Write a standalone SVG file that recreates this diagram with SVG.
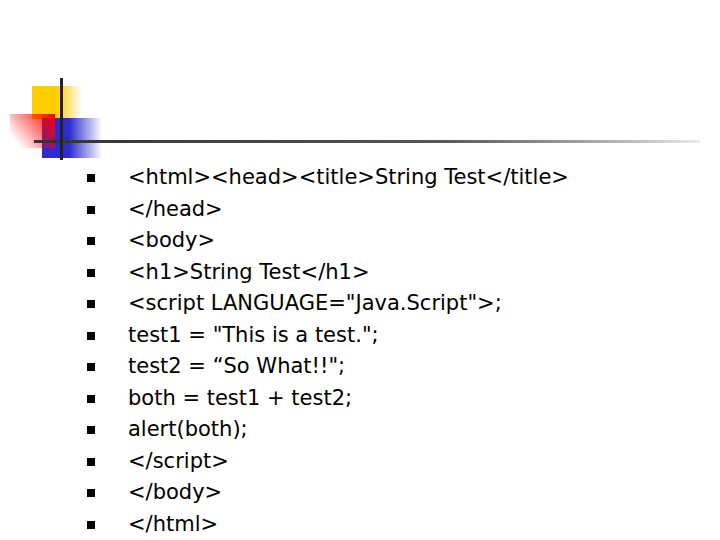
<svg xmlns="http://www.w3.org/2000/svg" width="720" height="540" viewBox="0 0 720 540">
<defs>
<linearGradient id="gy" x1="0" x2="1"><stop offset="0" stop-color="#ffcc00"/><stop offset="0.5" stop-color="#ffcc00"/><stop offset="1" stop-color="#ffcc00" stop-opacity="0"/></linearGradient>
<linearGradient id="gr" x1="0" x2="1" y1="0.6" y2="0"><stop offset="0" stop-color="#ff0000" stop-opacity="0"/><stop offset="1" stop-color="#ff0000"/></linearGradient>
<linearGradient id="gb" x1="0" x2="1"><stop offset="0" stop-color="#2b2bd0"/><stop offset="0.45" stop-color="#2b2bd0"/><stop offset="1" stop-color="#2b2bd0" stop-opacity="0"/></linearGradient>
<linearGradient id="gl" x1="0" x2="1"><stop offset="0" stop-color="#333"/><stop offset="0.6" stop-color="#555"/><stop offset="1" stop-color="#333" stop-opacity="0.1"/></linearGradient>
<style>text{font-family:"DejaVu Sans","Liberation Sans",sans-serif;font-size:21px;fill:#000}.b{fill:#000}</style>
</defs>
<rect width="720" height="540" fill="#fff"/>
<g id="logo">
<rect x="32" y="86" width="50" height="33" fill="url(#gy)"/>
<rect x="42" y="118" width="60" height="40" fill="url(#gb)"/>
<rect x="10" y="114" width="45" height="34" fill="url(#gr)"/>
<rect x="34" y="140" width="666" height="3" fill="url(#gl)"/>
<rect x="60" y="78" width="3" height="82" fill="#222"/>
</g>
<g id="list">
<g class="b">
<rect x="87" y="174" width="8" height="8"/><rect x="87" y="206" width="8" height="8"/><rect x="87" y="237" width="8" height="8"/><rect x="87" y="269" width="8" height="8"/><rect x="87" y="300" width="8" height="8"/><rect x="87" y="332" width="8" height="8"/><rect x="87" y="363" width="8" height="8"/><rect x="87" y="395" width="8" height="8"/><rect x="87" y="426" width="8" height="8"/><rect x="87" y="458" width="8" height="8"/><rect x="87" y="489" width="8" height="8"/><rect x="87" y="521" width="8" height="8"/>
</g>
<text x="128" y="184">&lt;html&gt;&lt;head&gt;&lt;title&gt;String Test&lt;/title&gt;</text>
<text x="128" y="216">&lt;/head&gt;</text>
<text x="128" y="247">&lt;body&gt;</text>
<text x="128" y="279">&lt;h1&gt;String Test&lt;/h1&gt;</text>
<text x="128" y="310">&lt;script LANGUAGE="Java.Script"&gt;;</text>
<text x="128" y="342">test1 = "This is a test.";</text>
<text x="128" y="373">test2 = “So What!!";</text>
<text x="128" y="405">both = test1 + test2;</text>
<text x="128" y="436">alert(both);</text>
<text x="128" y="468">&lt;/script&gt;</text>
<text x="128" y="499">&lt;/body&gt;</text>
<text x="128" y="531">&lt;/html&gt;</text>
</g>
</svg>
